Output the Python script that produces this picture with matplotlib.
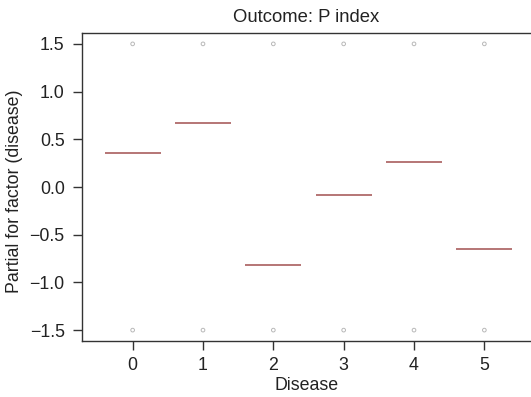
import matplotlib
matplotlib.use("Agg")
import matplotlib.pyplot as plt
import numpy as np

plt.rcParams['font.family'] = ['Liberation Sans', 'DejaVu Sans']

categories = [0, 1, 2, 3, 4, 5]
term_values = [0.36, 0.67, -0.82, -0.08, 0.26, -0.65]
resid_top = [1.5, 1.5, 1.5, 1.5, 1.5, 1.5]
resid_bottom = [-1.5, -1.5, -1.5, -1.5, -1.5, -1.5]
yticks = [-1.5, -1.0, -0.5, 0.0, 0.5, 1.0, 1.5]
ytick_labels = ['\u22121.5', '\u22121.0', '\u22120.5', '0.0', '0.5', '1.0', '1.5']

fig = plt.figure(figsize=(5.31, 3.97), dpi=100)
W, H = 531, 397
left, right, top, bottom = 82, 535, 33, 341
ax = fig.add_axes([left / W, 1 - bottom / H, (right - left) / W, (bottom - top) / H])

for c, v in zip(categories, term_values):
    ax.hlines(v, c - 0.4, c + 0.4, color='#b06a6a', lw=1.3)

ax.scatter(categories, resid_top, s=7, facecolors='none', edgecolors='#b8b8b8', linewidths=0.7)
ax.scatter(categories, resid_bottom, s=7, facecolors='none', edgecolors='#b8b8b8', linewidths=0.7)

ax.set_xlim(-0.72, 5.72)
ax.set_ylim(-1.614, 1.614)
ax.set_xticks(categories)
ax.set_xticklabels([str(c) for c in categories])
ax.set_yticks(yticks)
ax.set_yticklabels(ytick_labels)

for s in ax.spines.values():
    s.set_color('#333333')
    s.set_linewidth(1.0)

fs = 12.8
ax.tick_params(axis='both', direction='out', length=6.5, width=1.0, color='#333333',
               labelsize=fs, labelcolor='#222222')
ax.tick_params(axis='x', pad=5)
ax.tick_params(axis='y', pad=6)

cx = (82 + 531) / 2 / W
fig.text(cx, 1 - 386 / H, 'Disease', ha='center', va='center', fontsize=fs, color='#222222')
fig.text(15 / W, 1 - 191 / H, 'Partial for factor (disease)', ha='center', va='center',
         rotation=90, fontsize=fs, color='#222222')
fig.text(cx, 1 - 17 / H, 'Outcome: P index', ha='center', va='center',
         fontsize=13.3, color='#222222')

fig.savefig('out.png', dpi=100)
